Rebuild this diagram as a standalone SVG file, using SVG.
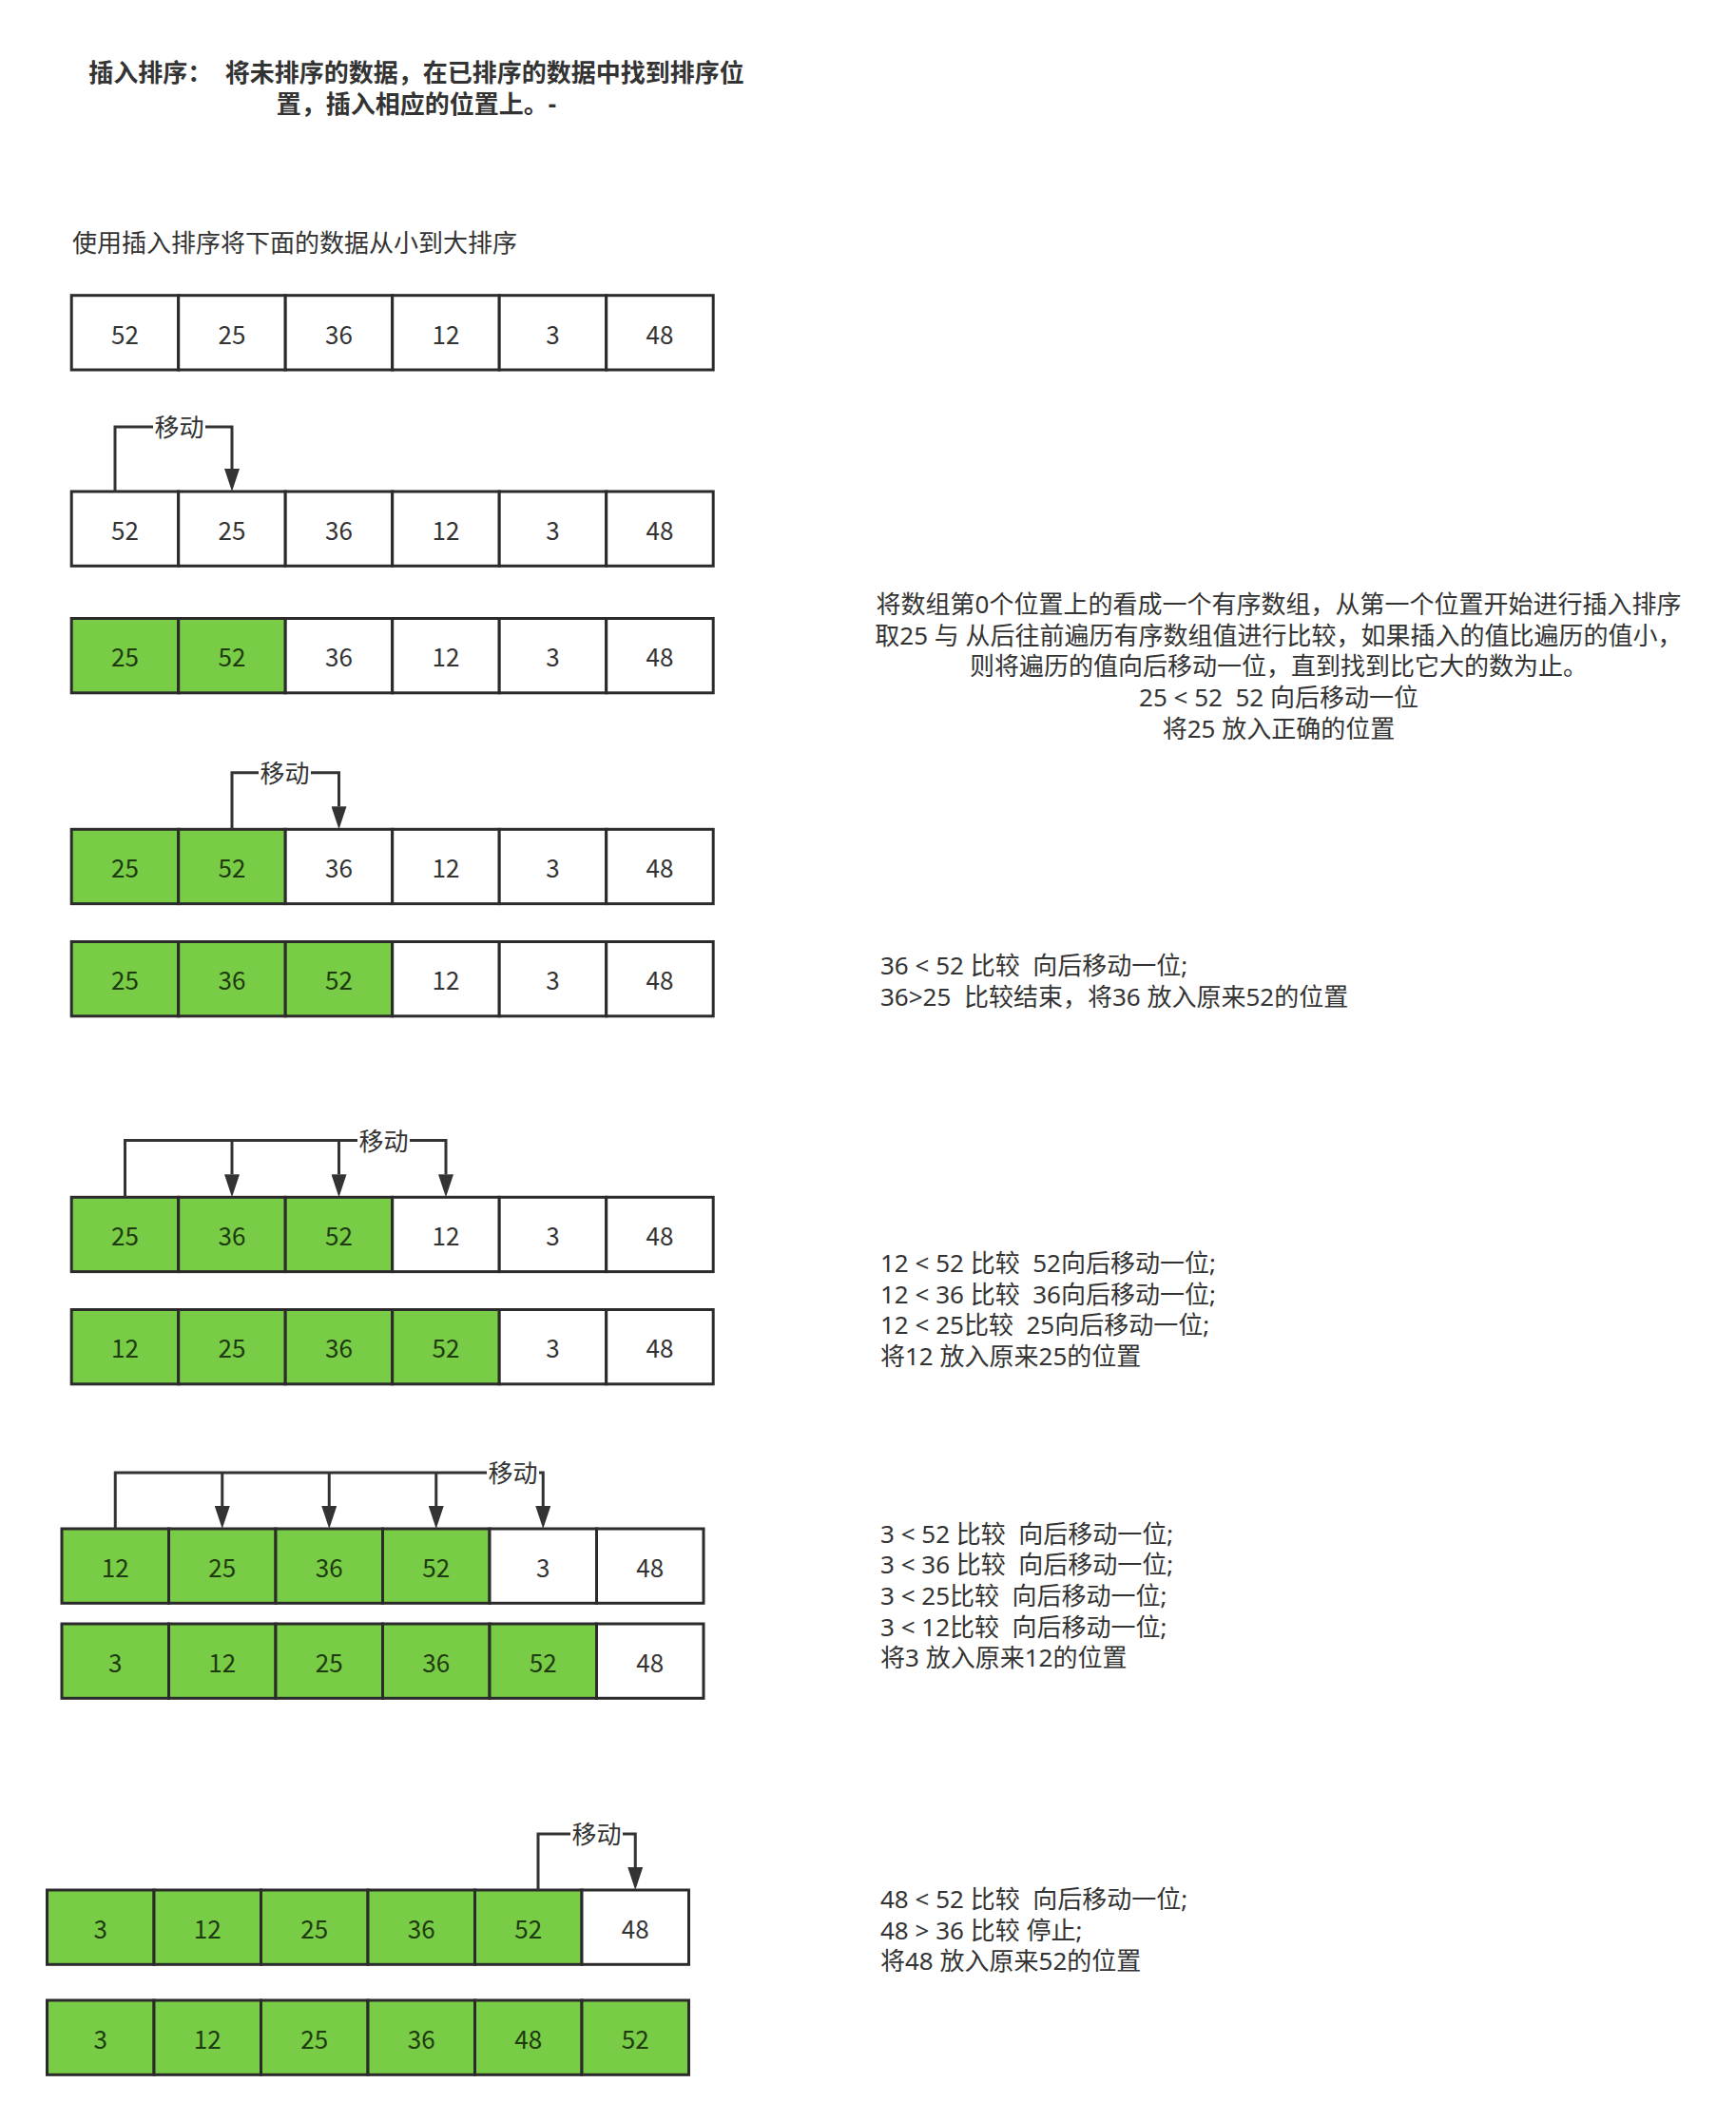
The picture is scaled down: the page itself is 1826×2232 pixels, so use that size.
<svg xmlns="http://www.w3.org/2000/svg" width="1826" height="2232" viewBox="0 0 1826 2232">
<defs>
<style>
text{font-family:"Noto Sans","Noto Sans CJK SC",sans-serif;fill:#333;font-size:26px;white-space:pre;}
.t{font-weight:bold;text-anchor:middle;dominant-baseline:central;}
.l{dominant-baseline:central;}
.m{text-anchor:middle;dominant-baseline:central;}
.w rect{fill:#fff;stroke:#2b2b2b;stroke-width:3;}
.g rect{fill:#79cc45;stroke:#2b2b2b;stroke-width:3;}
.w text,.g text{text-anchor:middle;dominant-baseline:central;font-family:"Noto Sans CJK SC",sans-serif;}
.g text{fill:#1e3a10;}
.e{fill:none;stroke:#333;stroke-width:3;}
.lb{fill:#fff;}
</style>
<marker id="ah" viewBox="0 0 24 16" refX="0" refY="8" markerWidth="24" markerHeight="16" markerUnits="userSpaceOnUse" orient="auto"><path d="M0,0 L24,8 L0,16 Z" fill="#333"/></marker>
</defs>
<rect width="1826" height="2232" fill="#fff"/>
<g id="title">
<text class="t" x="438" y="75.5">插入排序：  将未排序的数据，在已排序的数据中找到排序位</text>
<text class="t" x="438" y="108.5">置，插入相应的位置上。-</text>
</g>
<g id="subtitle"><text class="l" x="76" y="255">使用插入排序将下面的数据从小到大排序</text></g>

<!-- Row 1 -->
<g id="r1c0" class="w"><rect x="75.2" y="310.7" width="112.5" height="78.3"/><text x="131.45" y="350">52</text></g>
<g id="r1c1" class="w"><rect x="187.7" y="310.7" width="112.5" height="78.3"/><text x="243.95" y="350">25</text></g>
<g id="r1c2" class="w"><rect x="300.2" y="310.7" width="112.5" height="78.3"/><text x="356.45" y="350">36</text></g>
<g id="r1c3" class="w"><rect x="412.7" y="310.7" width="112.5" height="78.3"/><text x="468.95" y="350">12</text></g>
<g id="r1c4" class="w"><rect x="525.2" y="310.7" width="112.5" height="78.3"/><text x="581.45" y="350">3</text></g>
<g id="r1c5" class="w"><rect x="637.7" y="310.7" width="112.5" height="78.3"/><text x="693.95" y="350">48</text></g>

<!-- Row 2 -->
<g id="r2c0" class="w"><rect x="75.2" y="517" width="112.5" height="78.3"/><text x="131.45" y="556">52</text></g>
<g id="r2c1" class="w"><rect x="187.7" y="517" width="112.5" height="78.3"/><text x="243.95" y="556">25</text></g>
<g id="r2c2" class="w"><rect x="300.2" y="517" width="112.5" height="78.3"/><text x="356.45" y="556">36</text></g>
<g id="r2c3" class="w"><rect x="412.7" y="517" width="112.5" height="78.3"/><text x="468.95" y="556">12</text></g>
<g id="r2c4" class="w"><rect x="525.2" y="517" width="112.5" height="78.3"/><text x="581.45" y="556">3</text></g>
<g id="r2c5" class="w"><rect x="637.7" y="517" width="112.5" height="78.3"/><text x="693.95" y="556">48</text></g>

<!-- Row 3 -->
<g id="r3c0" class="g"><rect x="75.2" y="650.5" width="112.5" height="78.3"/><text x="131.45" y="689.6">25</text></g>
<g id="r3c1" class="g"><rect x="187.7" y="650.5" width="112.5" height="78.3"/><text x="243.95" y="689.6">52</text></g>
<g id="r3c2" class="w"><rect x="300.2" y="650.5" width="112.5" height="78.3"/><text x="356.45" y="689.6">36</text></g>
<g id="r3c3" class="w"><rect x="412.7" y="650.5" width="112.5" height="78.3"/><text x="468.95" y="689.6">12</text></g>
<g id="r3c4" class="w"><rect x="525.2" y="650.5" width="112.5" height="78.3"/><text x="581.45" y="689.6">3</text></g>
<g id="r3c5" class="w"><rect x="637.7" y="650.5" width="112.5" height="78.3"/><text x="693.95" y="689.6">48</text></g>

<!-- Row 4 -->
<g id="r4c0" class="g"><rect x="75.2" y="872.3" width="112.5" height="78.3"/><text x="131.45" y="911.5">25</text></g>
<g id="r4c1" class="g"><rect x="187.7" y="872.3" width="112.5" height="78.3"/><text x="243.95" y="911.5">52</text></g>
<g id="r4c2" class="w"><rect x="300.2" y="872.3" width="112.5" height="78.3"/><text x="356.45" y="911.5">36</text></g>
<g id="r4c3" class="w"><rect x="412.7" y="872.3" width="112.5" height="78.3"/><text x="468.95" y="911.5">12</text></g>
<g id="r4c4" class="w"><rect x="525.2" y="872.3" width="112.5" height="78.3"/><text x="581.45" y="911.5">3</text></g>
<g id="r4c5" class="w"><rect x="637.7" y="872.3" width="112.5" height="78.3"/><text x="693.95" y="911.5">48</text></g>

<!-- Row 5 -->
<g id="r5c0" class="g"><rect x="75.2" y="990.5" width="112.5" height="78.3"/><text x="131.45" y="1029.6">25</text></g>
<g id="r5c1" class="g"><rect x="187.7" y="990.5" width="112.5" height="78.3"/><text x="243.95" y="1029.6">36</text></g>
<g id="r5c2" class="g"><rect x="300.2" y="990.5" width="112.5" height="78.3"/><text x="356.45" y="1029.6">52</text></g>
<g id="r5c3" class="w"><rect x="412.7" y="990.5" width="112.5" height="78.3"/><text x="468.95" y="1029.6">12</text></g>
<g id="r5c4" class="w"><rect x="525.2" y="990.5" width="112.5" height="78.3"/><text x="581.45" y="1029.6">3</text></g>
<g id="r5c5" class="w"><rect x="637.7" y="990.5" width="112.5" height="78.3"/><text x="693.95" y="1029.6">48</text></g>

<!-- Row 6 -->
<g id="r6c0" class="g"><rect x="75.2" y="1259.3" width="112.5" height="78.3"/><text x="131.45" y="1298.5">25</text></g>
<g id="r6c1" class="g"><rect x="187.7" y="1259.3" width="112.5" height="78.3"/><text x="243.95" y="1298.5">36</text></g>
<g id="r6c2" class="g"><rect x="300.2" y="1259.3" width="112.5" height="78.3"/><text x="356.45" y="1298.5">52</text></g>
<g id="r6c3" class="w"><rect x="412.7" y="1259.3" width="112.5" height="78.3"/><text x="468.95" y="1298.5">12</text></g>
<g id="r6c4" class="w"><rect x="525.2" y="1259.3" width="112.5" height="78.3"/><text x="581.45" y="1298.5">3</text></g>
<g id="r6c5" class="w"><rect x="637.7" y="1259.3" width="112.5" height="78.3"/><text x="693.95" y="1298.5">48</text></g>

<!-- Row 7 -->
<g id="r7c0" class="g"><rect x="75.2" y="1377.5" width="112.5" height="78.3"/><text x="131.45" y="1416.6">12</text></g>
<g id="r7c1" class="g"><rect x="187.7" y="1377.5" width="112.5" height="78.3"/><text x="243.95" y="1416.6">25</text></g>
<g id="r7c2" class="g"><rect x="300.2" y="1377.5" width="112.5" height="78.3"/><text x="356.45" y="1416.6">36</text></g>
<g id="r7c3" class="g"><rect x="412.7" y="1377.5" width="112.5" height="78.3"/><text x="468.95" y="1416.6">52</text></g>
<g id="r7c4" class="w"><rect x="525.2" y="1377.5" width="112.5" height="78.3"/><text x="581.45" y="1416.6">3</text></g>
<g id="r7c5" class="w"><rect x="637.7" y="1377.5" width="112.5" height="78.3"/><text x="693.95" y="1416.6">48</text></g>

<!-- Row 8 -->
<g id="r8c0" class="g"><rect x="65" y="1608" width="112.5" height="78.3"/><text x="121.25" y="1647.2">12</text></g>
<g id="r8c1" class="g"><rect x="177.5" y="1608" width="112.5" height="78.3"/><text x="233.75" y="1647.2">25</text></g>
<g id="r8c2" class="g"><rect x="290" y="1608" width="112.5" height="78.3"/><text x="346.25" y="1647.2">36</text></g>
<g id="r8c3" class="g"><rect x="402.5" y="1608" width="112.5" height="78.3"/><text x="458.75" y="1647.2">52</text></g>
<g id="r8c4" class="w"><rect x="515" y="1608" width="112.5" height="78.3"/><text x="571.25" y="1647.2">3</text></g>
<g id="r8c5" class="w"><rect x="627.5" y="1608" width="112.5" height="78.3"/><text x="683.75" y="1647.2">48</text></g>

<!-- Row 9 -->
<g id="r9c0" class="g"><rect x="65" y="1708" width="112.5" height="78.3"/><text x="121.25" y="1747.2">3</text></g>
<g id="r9c1" class="g"><rect x="177.5" y="1708" width="112.5" height="78.3"/><text x="233.75" y="1747.2">12</text></g>
<g id="r9c2" class="g"><rect x="290" y="1708" width="112.5" height="78.3"/><text x="346.25" y="1747.2">25</text></g>
<g id="r9c3" class="g"><rect x="402.5" y="1708" width="112.5" height="78.3"/><text x="458.75" y="1747.2">36</text></g>
<g id="r9c4" class="g"><rect x="515" y="1708" width="112.5" height="78.3"/><text x="571.25" y="1747.2">52</text></g>
<g id="r9c5" class="w"><rect x="627.5" y="1708" width="112.5" height="78.3"/><text x="683.75" y="1747.2">48</text></g>

<!-- Row 10 -->
<g id="r10c0" class="g"><rect x="49.5" y="1988" width="112.5" height="78.3"/><text x="105.75" y="2027.2">3</text></g>
<g id="r10c1" class="g"><rect x="162" y="1988" width="112.5" height="78.3"/><text x="218.25" y="2027.2">12</text></g>
<g id="r10c2" class="g"><rect x="274.5" y="1988" width="112.5" height="78.3"/><text x="330.75" y="2027.2">25</text></g>
<g id="r10c3" class="g"><rect x="387" y="1988" width="112.5" height="78.3"/><text x="443.25" y="2027.2">36</text></g>
<g id="r10c4" class="g"><rect x="499.5" y="1988" width="112.5" height="78.3"/><text x="555.75" y="2027.2">52</text></g>
<g id="r10c5" class="w"><rect x="612" y="1988" width="112.5" height="78.3"/><text x="668.25" y="2027.2">48</text></g>

<!-- Row 11 -->
<g id="r11c0" class="g"><rect x="49.5" y="2104" width="112.5" height="78.3"/><text x="105.75" y="2143.2">3</text></g>
<g id="r11c1" class="g"><rect x="162" y="2104" width="112.5" height="78.3"/><text x="218.25" y="2143.2">12</text></g>
<g id="r11c2" class="g"><rect x="274.5" y="2104" width="112.5" height="78.3"/><text x="330.75" y="2143.2">25</text></g>
<g id="r11c3" class="g"><rect x="387" y="2104" width="112.5" height="78.3"/><text x="443.25" y="2143.2">36</text></g>
<g id="r11c4" class="g"><rect x="499.5" y="2104" width="112.5" height="78.3"/><text x="555.75" y="2143.2">48</text></g>
<g id="r11c5" class="g"><rect x="612" y="2104" width="112.5" height="78.3"/><text x="668.25" y="2143.2">52</text></g>

<g id="connectors">
<path class="e" d="M121,517 V449 H244 V493" marker-end="url(#ah)"/>
<rect class="lb" x="161" y="435" width="55" height="28"/>
<text class="m" x="188.5" y="449">移动</text>

<path class="e" d="M244,872.3 V812.7 H356.5 V848.3" marker-end="url(#ah)"/>
<rect class="lb" x="272" y="798.7" width="55" height="28"/>
<text class="m" x="299.5" y="812.7">移动</text>

<path class="e" d="M131.5,1259.3 V1199.5 H469 V1235.3" marker-end="url(#ah)"/>
<path class="e" d="M244,1199.5 V1235.3" marker-end="url(#ah)"/>
<path class="e" d="M356.5,1199.5 V1235.3" marker-end="url(#ah)"/>
<rect class="lb" x="376" y="1185.5" width="55" height="28"/>
<text class="m" x="403.5" y="1199.5">移动</text>

<path class="e" d="M121.25,1608 V1549 H571.25 V1584" marker-end="url(#ah)"/>
<path class="e" d="M233.75,1549 V1584" marker-end="url(#ah)"/>
<path class="e" d="M346.25,1549 V1584" marker-end="url(#ah)"/>
<path class="e" d="M458.75,1549 V1584" marker-end="url(#ah)"/>
<rect class="lb" x="512" y="1535" width="55" height="28"/>
<text class="m" x="539.5" y="1549">移动</text>

<path class="e" d="M566,1988 V1929 H668.25 V1964" marker-end="url(#ah)"/>
<rect class="lb" x="600" y="1915" width="55" height="28"/>
<text class="m" x="627.5" y="1929">移动</text>
</g>

<g id="note1">
<text class="m" x="1345" y="634.7">将数组第0个位置上的看成一个有序数组，从第一个位置开始进行插入排序</text>
<text class="m" x="1345" y="667.5">取25 与 从后往前遍历有序数组值进行比较，如果插入的值比遍历的值小，</text>
<text class="m" x="1345" y="700.2">则将遍历的值向后移动一位，直到找到比它大的数为止。</text>
<text class="m" x="1345" y="733">25 &lt; 52  52 向后移动一位</text>
<text class="m" x="1345" y="765.7">将25 放入正确的位置</text>
</g>
<g id="note2">
<text class="l" x="926" y="1014.7">36 &lt; 52 比较  向后移动一位;</text>
<text class="l" x="926" y="1047.5">36&gt;25  比较结束，将36 放入原来52的位置</text>
</g>
<g id="note3">
<text class="l" x="926" y="1327.8">12 &lt; 52 比较  52向后移动一位;</text>
<text class="l" x="926" y="1360.6">12 &lt; 36 比较  36向后移动一位;</text>
<text class="l" x="926" y="1393.3">12 &lt; 25比较  25向后移动一位;</text>
<text class="l" x="926" y="1426.1">将12 放入原来25的位置</text>
</g>
<g id="note4">
<text class="l" x="926" y="1612.5">3 &lt; 52 比较  向后移动一位;</text>
<text class="l" x="926" y="1645.2">3 &lt; 36 比较  向后移动一位;</text>
<text class="l" x="926" y="1678">3 &lt; 25比较  向后移动一位;</text>
<text class="l" x="926" y="1710.7">3 &lt; 12比较  向后移动一位;</text>
<text class="l" x="926" y="1743.4">将3 放入原来12的位置</text>
</g>
<g id="note5">
<text class="l" x="926" y="1996.8">48 &lt; 52 比较  向后移动一位;</text>
<text class="l" x="926" y="2029.5">48 &gt; 36 比较 停止;</text>
<text class="l" x="926" y="2062.3">将48 放入原来52的位置</text>
</g>
</svg>
